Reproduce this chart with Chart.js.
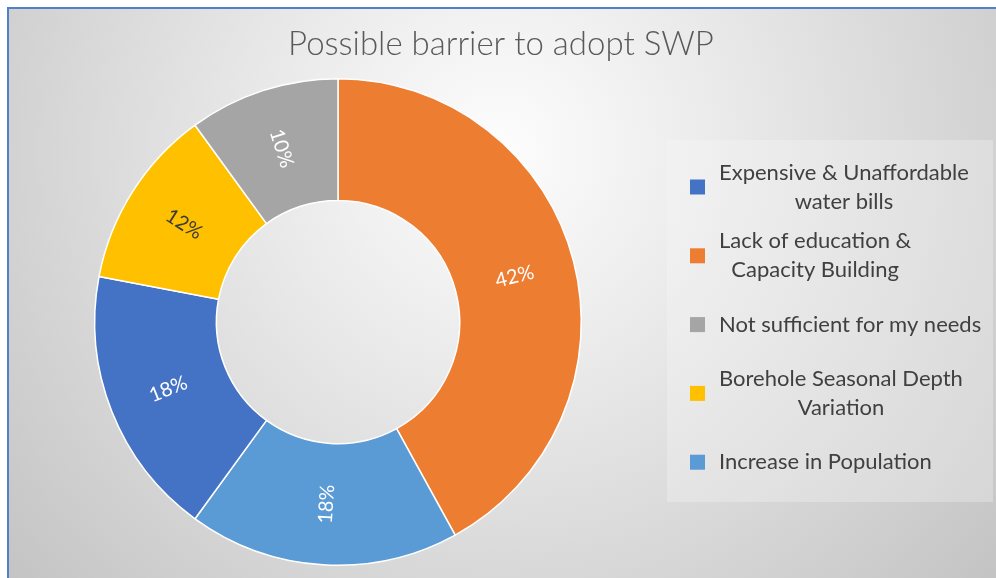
<!DOCTYPE html>
<html>
<head>
<meta charset="utf-8">
<script src="https://cdn.jsdelivr.net/npm/chart.js@4/dist/chart.umd.min.js"></script>
<style>
  html, body { margin: 0; padding: 0; background: #ffffff; }
  #wrap { width: 996px; height: 578px; position: relative; }
</style>
</head>
<body>
<div id="wrap"><canvas id="c" width="996" height="578"></canvas></div>
<script>
const titleText = 'Possible barrier to adopt SWP';

// Slices in drawing order, clockwise from 12 o'clock
const categories = [
  'Lack of education & Capacity Building',
  'Increase in Population',
  'Expensive & Unaffordable water bills',
  'Borehole Seasonal Depth Variation',
  'Not sufficient for my needs'
];
const values = [42, 18, 18, 12, 10];
const colors = ['#ED7D31', '#5B9BD5', '#4472C4', '#FFC000', '#A5A5A5'];
const labelColors = ['#ffffff', '#ffffff', '#ffffff', '#3b3b3b', '#ffffff'];

// Legend: entries listed by slice index, each with its wrapped lines
const legendOrder = [2, 0, 4, 3, 1];
const legendLines = [
  ['Lack of education &', 'Capacity Building'],
  ['Increase in Population'],
  ['Expensive & Unaffordable', 'water bills'],
  ['Borehole Seasonal Depth', 'Variation'],
  ['Not sufficient for my needs']
];

const FONT = 'Lato, "Open Sans", "DejaVu Sans", sans-serif';

// Frame: grey radial fill, blue edge, title and legend panel
const backdrop = {
  id: 'backdrop',
  beforeDraw(chart) {
    const ctx = chart.ctx;
    const W = chart.width, H = chart.height;
    ctx.save();
    ctx.fillStyle = '#ffffff';
    ctx.fillRect(0, 0, W, H);
    const g = ctx.createRadialGradient(500, 150, 0, 500, 150, 650);
    g.addColorStop(0, '#fdfdfd');
    g.addColorStop(0.35, '#eaeaea');
    g.addColorStop(1, '#c4c4c4');
    ctx.fillStyle = g;
    ctx.fillRect(8, 8, W - 8, H - 8);
    ctx.fillStyle = '#4f81c6';
    ctx.fillRect(7, 7, W - 7, 2);
    ctx.fillRect(7, 7, 2, H - 7);

    // legend panel
    ctx.fillStyle = 'rgba(250,250,250,0.3)';
    ctx.fillRect(667, 140, 326, 362);

    // title
    ctx.fillStyle = '#595959';
    ctx.font = '300 33px ' + FONT;
    ctx.textAlign = 'center';
    ctx.textBaseline = 'alphabetic';
    ctx.fillText(titleText, 501, 55);
    ctx.restore();
  }
};

// Percentage labels written along each slice's radius
const sliceLabels = {
  id: 'sliceLabels',
  afterDatasetsDraw(chart) {
    const ctx = chart.ctx;
    const meta = chart.getDatasetMeta(0);
    ctx.save();
    ctx.font = '400 20px ' + FONT;
    ctx.textAlign = 'center';
    ctx.textBaseline = 'middle';
    meta.data.forEach((arc, i) => {
      const p = arc.getProps(['x', 'y', 'startAngle', 'endAngle', 'innerRadius', 'outerRadius'], true);
      const mid = (p.startAngle + p.endAngle) / 2;
      const r = (p.innerRadius + p.outerRadius) / 2;
      const px = p.x + Math.cos(mid) * r;
      const py = p.y + Math.sin(mid) * r;
      let rot = mid;
      while (rot > Math.PI / 2) rot -= Math.PI;
      while (rot <= -Math.PI / 2) rot += Math.PI;
      ctx.save();
      ctx.translate(px, py);
      ctx.rotate(rot);
      ctx.fillStyle = labelColors[i];
      ctx.fillText(values[i] + '%', 0, 0);
      ctx.restore();
    });
    ctx.restore();
  }
};

// Legend with wrapped, centred entry text
const sideLegend = {
  id: 'sideLegend',
  afterDraw(chart) {
    const ctx = chart.ctx;
    const colorsUsed = chart.data.datasets[0].backgroundColor;
    ctx.save();
    ctx.font = '400 22px ' + FONT;
    ctx.textBaseline = 'middle';
    ctx.textAlign = 'left';
    const top = 187, step = 68.8, lineH = 29, textX = 719;
    legendOrder.forEach((idx, k) => {
      const cy = top + k * step;
      ctx.fillStyle = colorsUsed[idx];
      ctx.fillRect(690, cy - 7.5, 15, 15);
      const lines = legendLines[idx];
      const widths = lines.map(s => ctx.measureText(s).width);
      const block = Math.max(...widths);
      const y0 = cy - (lines.length - 1) * lineH / 2;
      ctx.fillStyle = '#404040';
      lines.forEach((s, j) => {
        ctx.fillText(s, textX + (block - widths[j]) / 2, y0 + j * lineH);
      });
    });
    ctx.restore();
  }
};

new Chart(document.getElementById('c'), {
  type: 'doughnut',
  data: {
    labels: categories,
    datasets: [{
      data: values,
      backgroundColor: colors,
      borderColor: '#ffffff',
      borderWidth: 1.5,
      hoverOffset: 0
    }]
  },
  options: {
    responsive: false,
    devicePixelRatio: 1,
    animation: false,
    cutout: '50%',
    rotation: 0,
    layout: { padding: { left: 94, right: 414, top: 78, bottom: 12 } },
    plugins: {
      legend: { display: false },
      title: { display: false },
      tooltip: { enabled: false }
    }
  },
  plugins: [backdrop, sliceLabels, sideLegend]
});
</script>
</body>
</html>
